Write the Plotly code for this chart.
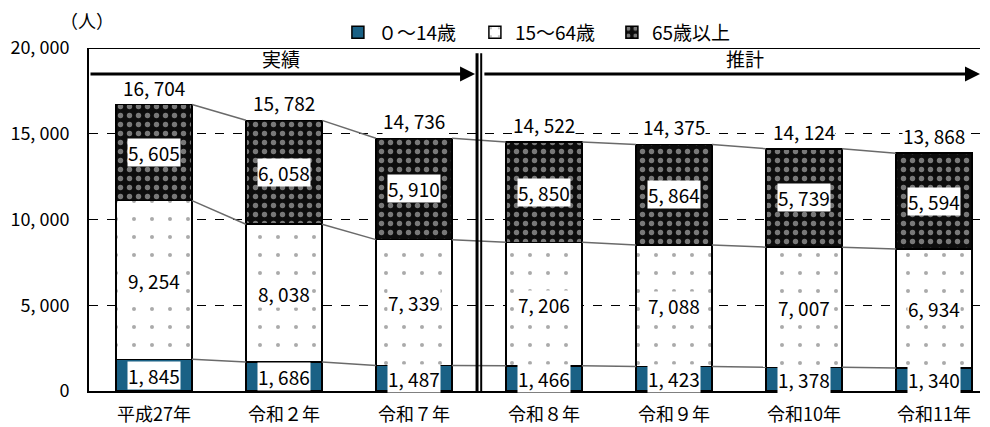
import plotly.graph_objects as go

categories = ["平成27年", "令和２年", "令和７年", "令和８年", "令和９年", "令和10年", "令和11年"]
age_0_14 = [1845, 1686, 1487, 1466, 1423, 1378, 1340]
age_15_64 = [9254, 8038, 7339, 7206, 7088, 7007, 6934]
age_65_plus = [5605, 6058, 5910, 5850, 5864, 5739, 5594]
totals = [16704, 15782, 14736, 14522, 14375, 14124, 13868]
series_names = ["０～14歳", "15～64歳", "65歳以上"]
ytick_vals = [0, 5000, 10000, 15000, 20000]
ytick_text = ["0", "5, 000", "10, 000", "15, 000", "20, 000"]
period_labels = ["実績", "推計"]
unit_label = "（人）"

FONT = "Noto Sans CJK JP, Noto Sans, sans-serif"
BAR_W = 0.585
x = list(range(len(categories)))


def fmt(v):
    s = f"{v:,}"
    return s.replace(",", ", ")


fig = go.Figure()
fig.add_trace(go.Bar(
    x=x, y=age_0_14, name=series_names[0], width=BAR_W,
    marker=dict(color="#1a6185", line=dict(color="black", width=1.5)),
))
fig.add_trace(go.Bar(
    x=x, y=age_15_64, name=series_names[1], width=BAR_W,
    marker=dict(color="white", line=dict(color="black", width=1.5),
                pattern=dict(shape=".", fgcolor="#555555", bgcolor="white",
                             size=18, solidity=0.04)),
))
fig.add_trace(go.Bar(
    x=x, y=age_65_plus, name=series_names[2], width=BAR_W,
    marker=dict(color="black", line=dict(color="black", width=1.5),
                pattern=dict(shape=".", fgcolor="#e4e4e4", bgcolor="#0d0d0d",
                             size=9, solidity=0.28)),
))

# connecting lines between bar tops
cum1 = age_0_14
cum2 = [a + b for a, b in zip(age_0_14, age_15_64)]
cum3 = [a + b + c for a, b, c in zip(age_0_14, age_15_64, age_65_plus)]
for lvl in (cum1, cum2, cum3):
    lx, ly = [], []
    for i in range(len(x) - 1):
        lx += [x[i] + BAR_W / 2, x[i + 1] - BAR_W / 2, None]
        ly += [lvl[i], lvl[i + 1], None]
    fig.add_trace(go.Scatter(x=lx, y=ly, mode="lines", showlegend=False,
                             hoverinfo="skip",
                             line=dict(color="#6a6a6a", width=1.5)))

LBL = 19
ann = []
for i in x:
    mids = [age_0_14[i] / 2,
            age_0_14[i] + age_15_64[i] / 2,
            age_0_14[i] + age_15_64[i] + age_65_plus[i] / 2]
    vals = [age_0_14[i], age_15_64[i], age_65_plus[i]]
    for m, v in zip(mids, vals):
        ann.append(dict(x=i, y=m, xref="x", yref="y", text=fmt(v), showarrow=False,
                        bgcolor="white", borderpad=0,
                        font=dict(size=LBL, color="black", family=FONT)))
    ann.append(dict(x=i, y=totals[i], xref="x", yref="y", text=fmt(totals[i]),
                    showarrow=False, bgcolor="white", borderpad=0, yanchor="bottom",
                    yshift=3, font=dict(size=LBL, color="black", family=FONT)))

# period arrows
arrow_y = 18480
ann.append(dict(x=2.47, y=arrow_y, ax=-0.5, ay=arrow_y, xref="x", yref="y",
                axref="x", ayref="y", showarrow=True, arrowhead=2, arrowsize=1,
                arrowwidth=3, arrowcolor="black", text=""))
ann.append(dict(x=6.354, y=arrow_y, ax=2.53, ay=arrow_y, xref="x", yref="y",
                axref="x", ayref="y", showarrow=True, arrowhead=2, arrowsize=1,
                arrowwidth=3, arrowcolor="black", text=""))
ann.append(dict(x=0.98, y=arrow_y, xref="x", yref="y", text=period_labels[0],
                showarrow=False, yanchor="bottom", yshift=0,
                font=dict(size=19, color="black", family=FONT)))
ann.append(dict(x=4.55, y=arrow_y, xref="x", yref="y", text=period_labels[1],
                showarrow=False, yanchor="bottom", yshift=0,
                font=dict(size=19, color="black", family=FONT)))
ann.append(dict(x=-0.002, y=1.082, xref="paper", yref="paper", text=unit_label,
                xanchor="center", yanchor="middle",
                showarrow=False, font=dict(size=18, color="black", family=FONT)))

shapes = [
    dict(type="line", xref="x", yref="y", x0=2.485, x1=2.485, y0=0, y1=19700,
         line=dict(color="black", width=3)),
    dict(type="line", xref="x", yref="y", x0=2.517, x1=2.517, y0=0, y1=19700,
         line=dict(color="black", width=2)),
    dict(type="line", xref="paper", yref="y", x0=0, x1=1, y0=20000, y1=20000,
         line=dict(color="black", width=2)),
]

# page has an 8px body margin; size the figure so it fills the 990x427 window
fig.update_layout(
    barmode="stack",
    width=982, height=419,
    margin=dict(l=81, r=10, t=40, b=36, autoexpand=False),
    plot_bgcolor="white", paper_bgcolor="white",
    font=dict(family=FONT, size=19, color="black"),
    showlegend=True,
    legend=dict(orientation="h", x=0.51, xanchor="center", y=0.99, yanchor="bottom",
                font=dict(size=19, family=FONT), traceorder="normal",
                entrywidth=92, itemwidth=30, bgcolor="rgba(0,0,0,0)"),
    annotations=ann,
    shapes=shapes,
)
fig.update_xaxes(range=[-0.5, 6.354], tickvals=x, ticktext=categories,
                 showgrid=False, showline=True, linecolor="black", linewidth=2,
                 ticks="", tickfont=dict(size=18, family=FONT), ticklabelstandoff=6,
                 zeroline=False, automargin=False)
fig.update_yaxes(range=[0, 20000], tickvals=ytick_vals, ticktext=ytick_text,
                 showgrid=True, gridcolor="black", griddash="dash", gridwidth=1.2,
                 showline=True, linecolor="black", linewidth=2, ticks="",
                 tickfont=dict(size=18, family=FONT), ticklabelstandoff=14,
                 zeroline=False, automargin=False)

fig.write_html("out.html")
